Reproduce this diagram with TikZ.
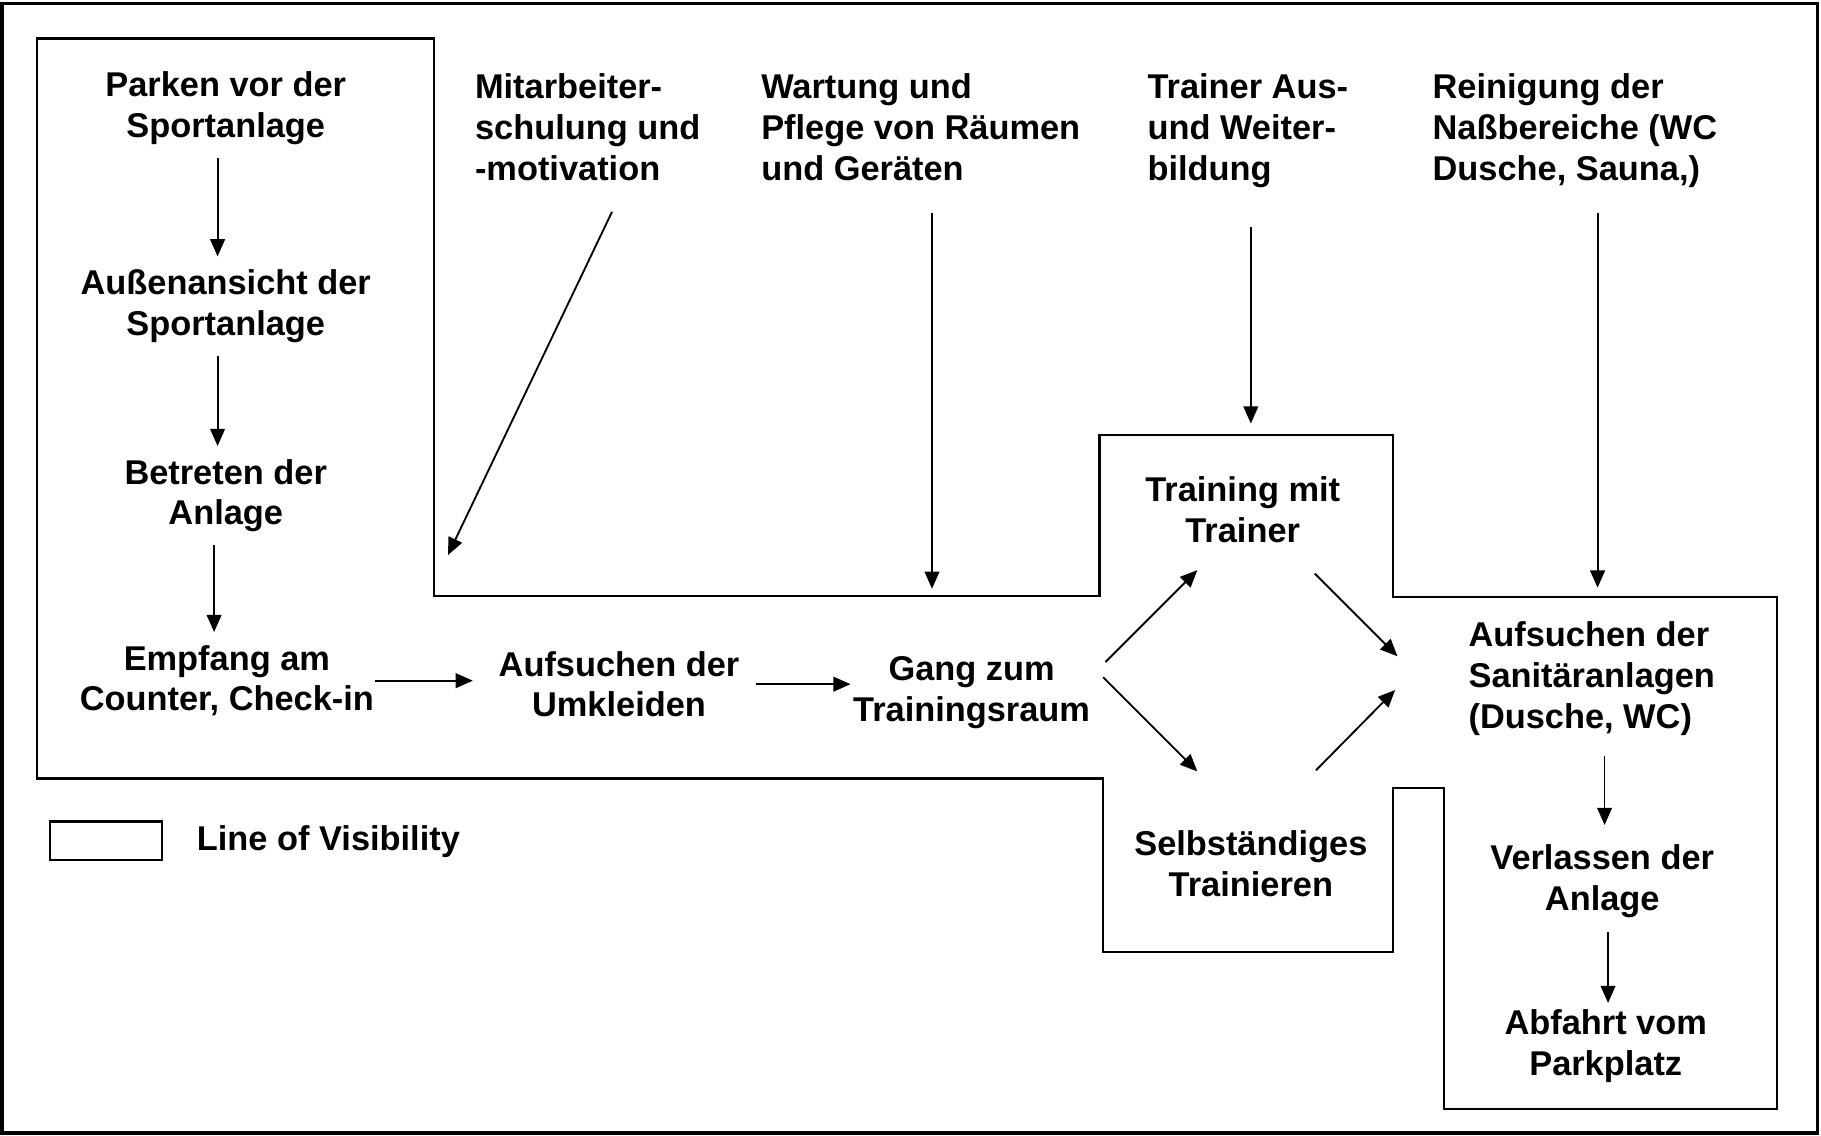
\documentclass[tikz,border=0pt]{standalone}
\usepackage{fontspec}
\setmainfont{Liberation Sans}
\usetikzlibrary{arrows.meta}

\begin{document}
\begin{tikzpicture}[x=0.01cm, y=0.01cm, >={Triangle[length=4.2pt, width=3.6pt]}, schritt style/.style={align=center, inner sep=3pt, font=\fontsize{8.4pt}{10pt}\selectfont\bfseries}, stuetz style/.style={align=left, anchor=north west, inner sep=3pt, font=\fontsize{8.4pt}{10pt}\selectfont\bfseries}, linie/.style={line width=0.6pt}, pfeil/.style={->, line width=0.45pt}]
	\useasboundingbox (0,0) rectangle (1565,-976);
	\draw[line width=0.9pt] (2,-3) rectangle (1562,-974);
	% line of visibility
	\draw[linie] (32,-33) -- (373,-33) -- (373,-512) -- (945,-512) -- (945,-374) -- (1197,-374) -- (1197,-513) -- (1527,-513) -- (1527,-953) -- (1241,-953) -- (1241,-677) -- (1197,-677) -- (1197,-818) -- (948,-818) -- (948,-669) -- (32,-669) -- cycle;
	\draw[linie] (43,-706) rectangle (139,-739);
	\node[schritt style, anchor=west] (L1) at (158,-723) {Line of Visibility};
	% kundenprozess
	\node[schritt style] (S1) at (194,-93) {Parken vor der\\Sportanlage};
	\node[schritt style] (S2) at (194,-263) {Außenansicht der\\Sportanlage};
	\node[schritt style] (S3) at (194,-426) {Betreten der\\Anlage};
	\node[schritt style] (S4) at (195,-585) {Empfang am\\Counter, Check-in};
	\node[schritt style] (S5) at (532,-588) {Aufsuchen der\\Umkleiden};
	\node[schritt style] (S6) at (835,-595) {Gang zum\\Trainingsraum};
	\node[schritt style] (S7) at (1068,-438) {Training mit\\Trainer};
	\node[schritt style] (S8) at (1075,-742) {Selbständiges\\Trainieren};
	\node[schritt style, align=left] (S9) at (1368,-583) {Aufsuchen der\\Sanitäranlagen\\(Dusche, WC)};
	\node[schritt style] (S10) at (1377,-757) {Verlassen der\\Anlage};
	\node[schritt style] (S11) at (1380,-899) {Abfahrt vom\\Parkplatz};
	% unterstuetzende prozesse
	\node[stuetz style] (K1) at (397,-52) {Mitarbeiter-\\schulung und\\-motivation};
	\node[stuetz style] (K2) at (643,-52) {Wartung und\\Pflege von Räumen\\und Geräten};
	\node[stuetz style] (K3) at (975,-52) {Trainer Aus-\\und Weiter-\\bildung};
	\node[stuetz style] (K4) at (1220,-52) {Reinigung der\\Naßbereiche (WC\\Dusche, Sauna,)};
	\coordinate (E1) at (385,-477);
	\coordinate (E2) at (801,-506);
	\coordinate (E3) at (1075,-364);
	\coordinate (E4) at (1373,-505);
	\draw[pfeil] ([shift={(-7,0)}]S1.south) -- ([shift={(-7,0)}]S2.north);
	\draw[pfeil] ([shift={(-7,0)}]S2.south) -- ([shift={(-7,0)}]S3.north);
	\draw[pfeil] ([shift={(-10,0)}]S3.south) -- ([shift={(-11,0)}]S4.north);
	\draw[pfeil] ([shift={(-10,0)}]S4.east) -- ([shift={(-11,3)}]S5.west);
	\draw[pfeil] ([shift={(3,0)}]S5.east) -- ([shift={(9,7)}]S6.west);
	\draw[pfeil] ([shift={(115,26)}]S6.center) -- ([shift={(-39,-52)}]S7.center);
	\draw[pfeil] ([shift={(113,13)}]S6.center) -- ([shift={(-46,79)}]S8.center);
	\draw[pfeil] ([shift={(62,-55)}]S7.center) -- ([shift={(-167,19)}]S9.center);
	\draw[pfeil] ([shift={(56,80)}]S8.center) -- ([shift={(-169,-10)}]S9.center);
	\draw[pfeil] ([shift={(11,-67)}]S9.center) -- ([shift={(2,48)}]S10.center);
	\draw[pfeil] ([shift={(5,-44)}]S10.center) -- ([shift={(2,37)}]S11.center);
	\draw[pfeil] ([shift={(129,-130)}]K1.north west) -- (E1);
	\draw[pfeil] ([shift={(158,-131)}]K2.north west) -- (E2);
	\draw[pfeil] ([shift={(100,-143)}]K3.north west) -- (E3);
	\draw[pfeil] ([shift={(153,-131)}]K4.north west) -- (E4);
\end{tikzpicture}
\end{document}
